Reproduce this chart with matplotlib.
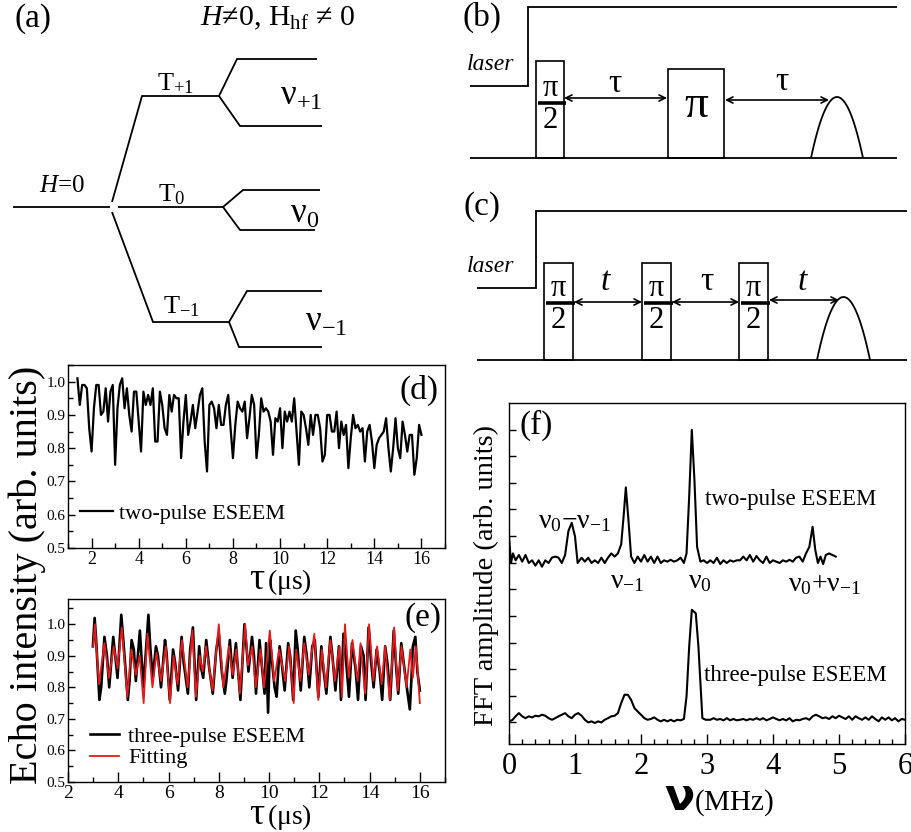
import matplotlib
matplotlib.use("Agg")
import matplotlib.pyplot as plt
import numpy as np
from matplotlib.patches import Rectangle, FancyArrowPatch
from matplotlib.ticker import MultipleLocator, NullFormatter, FormatStrFormatter

plt.rcParams["font.family"] = ["Liberation Serif", "DejaVu Serif"]
plt.rcParams["mathtext.fontset"] = "custom"
plt.rcParams["mathtext.rm"] = "Liberation Serif"
plt.rcParams["mathtext.it"] = "Liberation Serif:italic"

# (d) two-pulse echo decay, sampled every 0.1 us from 1.4 to 16.0 us
echo_two = [
    1.01, 0.93, 0.99, 0.99, 0.98, 0.86, 0.79, 0.92, 0.99, 0.99,
    0.90, 0.91, 0.98, 0.88, 0.97, 0.99, 0.75, 0.92, 0.99, 1.01,
    0.92, 0.98, 0.90, 0.85, 0.97, 0.97, 0.88, 0.79, 0.97, 0.93,
    0.96, 0.93, 0.98, 0.82, 0.82, 0.97, 0.93, 0.86, 0.84, 0.96,
    0.91, 0.96, 0.95, 0.95, 0.77, 0.88, 0.96, 0.84, 0.88, 0.93,
    0.86, 0.91, 0.96, 0.98, 0.82, 0.73, 0.93, 0.94, 0.92, 0.86,
    0.93, 0.87, 0.87, 0.93, 0.96, 0.86, 0.77, 0.87, 0.94, 0.92,
    0.91, 0.94, 0.83, 0.89, 0.96, 0.93, 0.77, 0.84, 0.95, 0.91,
    0.92, 0.91, 0.88, 0.78, 0.89, 0.88, 0.92, 0.80, 0.91, 0.88,
    0.91, 0.88, 0.95, 0.85, 0.75, 0.91, 0.90, 0.86, 0.81, 0.90,
    0.84, 0.90, 0.90, 0.86, 0.76, 0.78, 0.90, 0.90, 0.85, 0.85,
    0.91, 0.80, 0.88, 0.84, 0.87, 0.74, 0.83, 0.90, 0.86, 0.87,
    0.85, 0.86, 0.76, 0.85, 0.87, 0.82, 0.74, 0.81, 0.83, 0.84,
    0.85, 0.89, 0.80, 0.73, 0.80, 0.89, 0.80, 0.77, 0.88, 0.84,
    0.79, 0.84, 0.84, 0.72, 0.77, 0.87, 0.84,
]
tau_two = np.linspace(1.4, 16.0, len(echo_two))

# (e) three-pulse echo and its fit
tau_three = [
    2.99, 3.06, 3.12, 3.25, 3.32, 3.45, 3.55, 3.64, 3.80, 3.88, 3.97,
    4.12, 4.20, 4.38, 4.45, 4.53, 4.62, 4.70, 4.86, 4.92, 5.00,
    5.20, 5.28, 5.37, 5.50, 5.58, 5.70, 5.86, 5.92, 6.05,
    6.18, 6.26, 6.38, 6.52, 6.60, 6.77, 6.86, 6.97, 7.10,
    7.22, 7.30, 7.38, 7.50, 7.62, 7.76, 7.90, 8.00,
    8.12, 8.24, 8.30, 8.44, 8.55, 8.68, 8.76, 8.86, 9.02,
    9.10, 9.18, 9.32, 9.40, 9.48, 9.62, 9.70, 9.82, 9.88, 9.96,
    10.04, 10.12, 10.22, 10.30, 10.42, 10.50, 10.62, 10.76, 10.84, 10.96,
    11.06, 11.14, 11.26, 11.40, 11.50, 11.60, 11.72, 11.82, 11.96,
    12.08, 12.16, 12.28, 12.44, 12.52, 12.64, 12.78, 12.86, 12.96,
    13.08, 13.18, 13.30, 13.44, 13.54, 13.66, 13.76, 13.84, 13.96,
    14.06, 14.16, 14.28, 14.40, 14.50, 14.62, 14.72, 14.82, 14.96,
    15.06, 15.14, 15.26, 15.40, 15.48, 15.60, 15.66, 15.72, 15.82, 15.90, 16.00,
]
echo_three = [
    0.93, 1.02, 0.95, 0.76, 0.80, 0.96, 0.90, 0.80, 0.96, 0.90, 0.83,
    1.03, 0.95, 0.76, 0.82, 0.95, 0.92, 0.82, 0.98, 0.90, 0.80,
    1.03, 0.92, 0.83, 0.93, 0.90, 0.80, 0.95, 0.91, 0.76,
    0.92, 0.88, 0.79, 0.96, 0.88, 0.78, 0.92, 0.99, 0.76,
    0.93, 0.86, 0.83, 0.95, 0.86, 0.78, 0.92, 0.97,
    0.85, 0.78, 0.82, 0.95, 0.83, 0.94, 0.86, 0.76, 1.00,
    0.93, 0.85, 0.96, 0.90, 0.78, 0.95, 0.88, 0.78, 0.94, 0.72,
    0.95, 0.88, 0.80, 0.77, 0.93, 0.88, 0.79, 0.94, 0.90, 0.76,
    0.98, 0.92, 0.79, 0.96, 0.90, 0.80, 0.93, 0.95, 0.77,
    0.93, 0.86, 0.78, 0.96, 0.90, 0.79, 0.93, 0.76, 0.97,
    0.87, 0.77, 0.94, 0.86, 0.76, 0.93, 0.90, 0.76, 0.99,
    0.88, 0.80, 0.92, 0.85, 0.76, 0.93, 0.87, 0.76, 0.98,
    0.86, 0.78, 0.94, 0.85, 0.80, 0.73, 0.82, 0.93, 0.96, 0.85, 0.79,
]
tau_fit = [
    3.00, 3.07, 3.23, 3.45, 3.63, 3.82, 3.97,
    4.14, 4.36, 4.52, 4.70, 4.85, 5.01,
    5.16, 5.36, 5.52, 5.70, 5.89, 6.06,
    6.20, 6.36, 6.53, 6.76, 6.95, 7.09,
    7.24, 7.36, 7.49, 7.75, 8.00,
    8.18, 8.40, 8.55, 8.70, 8.84,
    9.05, 9.16, 9.33, 9.47, 9.66, 9.80,
    10.03, 10.20, 10.40, 10.64, 10.80, 10.98,
    11.08, 11.25, 11.40, 11.58, 11.80, 11.96,
    12.10, 12.26, 12.44, 12.62, 12.80, 12.90, 13.02,
    13.17, 13.32, 13.52, 13.64, 13.82, 13.98,
    14.15, 14.30, 14.48, 14.62, 14.80, 14.98,
    15.12, 15.27, 15.47, 15.62, 15.72, 15.84, 16.00,
]
echo_fit = [
    0.93, 1.00, 0.81, 0.94, 0.83, 0.93, 0.86,
    0.99, 0.77, 0.92, 0.84, 0.90, 0.75,
    0.97, 0.80, 0.91, 0.82, 0.93, 0.75,
    0.90, 0.81, 0.95, 0.80, 0.98, 0.77,
    0.90, 0.85, 0.93, 0.79, 1.00,
    0.80, 0.93, 0.84, 0.92, 0.78,
    1.00, 0.87, 0.93, 0.80, 0.92, 0.80,
    0.98, 0.82, 0.92, 0.82, 0.93, 0.75,
    0.92, 0.82, 0.94, 0.84, 0.97, 0.76,
    0.92, 0.80, 0.95, 0.82, 0.93, 0.77, 1.00,
    0.83, 0.95, 0.82, 0.94, 0.78, 1.00,
    0.82, 0.93, 0.81, 0.93, 0.76, 0.99,
    0.79, 0.93, 0.80, 0.92, 0.83, 0.93, 0.75,
]

# (f) FFT spectra, offset vertically (arbitrary units)
freq_two = [
    0.00, 0.03, 0.06, 0.10, 0.15, 0.20, 0.25, 0.30, 0.35, 0.40,
    0.45, 0.50, 0.55, 0.60, 0.65, 0.70, 0.75, 0.80, 0.85, 0.90,
    0.95, 1.00, 1.04, 1.10, 1.15, 1.20, 1.25, 1.30, 1.35, 1.40,
    1.45, 1.50, 1.55, 1.60, 1.65, 1.70, 1.74, 1.77, 1.81, 1.85,
    1.90, 1.95, 2.00, 2.05, 2.10, 2.15, 2.20, 2.25, 2.30, 2.35,
    2.40, 2.45, 2.50, 2.55, 2.60, 2.65, 2.69, 2.73, 2.77, 2.81,
    2.85, 2.90, 2.95, 3.00, 3.05, 3.10, 3.15, 3.20, 3.25, 3.30,
    3.35, 3.40, 3.45, 3.50, 3.55, 3.60, 3.65, 3.70, 3.75, 3.80,
    3.85, 3.90, 3.95, 4.00, 4.05, 4.10, 4.15, 4.20, 4.25, 4.30,
    4.35, 4.40, 4.45, 4.50, 4.55, 4.60, 4.64, 4.68, 4.72, 4.76,
    4.80, 4.85, 4.90, 4.95,
]
fft_two = [
    7.80, 6.80, 7.16, 6.90, 7.10, 6.85, 7.10, 6.80, 6.90, 6.70,
    6.90, 6.66, 6.90, 6.80, 7.00, 7.04, 7.00, 6.80, 7.10, 8.00,
    8.31, 7.80, 6.80, 7.00, 6.85, 7.00, 6.80, 6.90, 6.80, 7.00,
    6.80, 7.00, 7.16, 7.04, 7.16, 7.50, 8.66, 9.64, 8.40, 7.04,
    6.80, 7.04, 6.85, 7.10, 6.85, 7.04, 6.80, 7.04, 6.80, 6.90,
    6.85, 6.92, 6.85, 6.90, 7.00, 6.80, 7.16, 9.30, 11.80, 9.90,
    7.40, 6.85, 6.90, 6.80, 6.90, 6.80, 7.00, 6.76, 6.90, 6.80,
    6.90, 6.85, 6.90, 6.90, 7.04, 6.90, 7.10, 6.85, 7.06, 6.90,
    6.80, 7.04, 6.80, 6.90, 6.85, 6.80, 6.90, 6.85, 6.92, 6.85,
    7.00, 7.04, 6.85, 7.16, 7.40, 8.16, 7.30, 6.80, 7.04, 6.76,
    7.10, 7.16, 7.10, 7.04,
]
freq_three = [
    0.00, 0.05, 0.10, 0.15, 0.20, 0.25, 0.30, 0.35, 0.40, 0.45,
    0.50, 0.55, 0.60, 0.65, 0.70, 0.75, 0.80, 0.85, 0.90, 0.95,
    1.00, 1.05, 1.10, 1.15, 1.20, 1.25, 1.30, 1.35, 1.40, 1.45,
    1.50, 1.55, 1.60, 1.65, 1.70, 1.75, 1.80, 1.85, 1.90, 1.95,
    2.00, 2.05, 2.10, 2.15, 2.20, 2.25, 2.30, 2.35, 2.40, 2.45,
    2.50, 2.55, 2.60, 2.65, 2.69, 2.73, 2.77, 2.83, 2.87, 2.93,
    2.98, 3.05, 3.10, 3.15, 3.20, 3.25, 3.30, 3.35, 3.40, 3.45,
    3.50, 3.55, 3.60, 3.65, 3.70, 3.75, 3.80, 3.85, 3.90, 3.95,
    4.00, 4.05, 4.10, 4.15, 4.20, 4.25, 4.30, 4.35, 4.40, 4.45,
    4.50, 4.55, 4.60, 4.65, 4.70, 4.75, 4.80, 4.85, 4.90, 4.95,
    5.00, 5.05, 5.10, 5.15, 5.20, 5.25, 5.30, 5.35, 5.40, 5.45,
    5.50, 5.55, 5.60, 5.65, 5.70, 5.75, 5.80, 5.85, 5.90, 5.95, 6.00,
]
fft_three = [
    0.85, 0.90, 1.04, 1.16, 1.04, 0.97, 1.04, 1.00, 1.06, 1.04,
    1.10, 1.06, 0.97, 0.91, 0.97, 1.04, 1.10, 1.16, 1.04, 0.97,
    1.10, 1.16, 1.06, 0.91, 0.81, 0.85, 0.79, 0.85, 0.81, 0.91,
    0.97, 1.04, 1.06, 1.16, 1.54, 1.85, 1.85, 1.66, 1.35, 1.22,
    1.10, 0.97, 0.91, 0.94, 1.00, 0.91, 0.85, 0.91, 0.85, 0.91,
    0.85, 0.91, 0.89, 0.94, 1.79, 3.66, 5.04, 4.91, 3.66, 0.97,
    0.91, 0.91, 0.97, 0.91, 0.94, 0.89, 0.97, 0.89, 0.94, 0.89,
    0.91, 0.94, 0.89, 0.94, 0.91, 0.97, 0.91, 0.97, 0.89, 0.94,
    1.00, 0.94, 0.89, 0.94, 0.89, 0.97, 0.85, 0.91, 0.89, 0.94,
    0.97, 0.91, 1.04, 1.10, 1.04, 0.97, 1.00, 0.94, 1.04, 0.97,
    1.06, 1.00, 0.94, 1.04, 0.91, 1.04, 0.97, 0.91, 1.00, 0.91,
    1.04, 0.94, 0.85, 1.00, 0.91, 1.00, 0.89, 0.97, 0.85, 0.94, 0.91,
]

W, H = 912, 832
RED = "#e31a1c"


def frame(x0, y0, x1, y1):
    return [x0 / W, 1 - y1 / H, (x1 - x0) / W, (y1 - y0) / H]


def style(ax, xsize, ysize, xpad=2):
    for spine in ax.spines.values():
        spine.set_linewidth(1.0)
    ax.tick_params(which="both", direction="in", top=False, right=False, width=1.0)
    ax.tick_params(axis="x", which="major", length=7, labelsize=xsize, pad=xpad)
    ax.tick_params(axis="y", which="major", length=5, labelsize=ysize, pad=2)
    ax.tick_params(which="minor", length=3.5)


fig = plt.figure(figsize=(W / 100, H / 100), dpi=100)

# (d) two-pulse ESEEM
ax_d = fig.add_axes(frame(68, 365, 445, 548))
ax_d.plot(tau_two, echo_two, color="k", lw=1.6, label="two-pulse ESEEM")
ax_d.set_xlim(1, 17)
ax_d.set_ylim(0.5, 1.05)
ax_d.xaxis.set_major_locator(MultipleLocator(2))
ax_d.xaxis.set_minor_locator(MultipleLocator(1))
ax_d.yaxis.set_major_locator(MultipleLocator(0.1))
ax_d.yaxis.set_minor_locator(MultipleLocator(0.05))
ax_d.yaxis.set_major_formatter(FormatStrFormatter("%.1f"))
style(ax_d, 13, 11)
ax_d.legend(loc="center left", bbox_to_anchor=(0.032, 0.19), frameon=False,
            fontsize=16, handlelength=1.5, handletextpad=0.25,
            borderpad=0, borderaxespad=0)

# (e) three-pulse ESEEM with fit
ax_e = fig.add_axes(frame(68, 599, 445, 782))
ax_e.plot(tau_three, echo_three, color="k", lw=1.9, label="three-pulse ESEEM")
ax_e.plot(tau_fit, echo_fit, color=RED, lw=1.3, label="Fitting")
ax_e.set_xlim(2, 17)
ax_e.set_ylim(0.5, 1.08)
ax_e.xaxis.set_major_locator(MultipleLocator(2))
ax_e.xaxis.set_minor_locator(MultipleLocator(1))
ax_e.yaxis.set_major_locator(MultipleLocator(0.1))
ax_e.yaxis.set_minor_locator(MultipleLocator(0.05))
ax_e.yaxis.set_major_formatter(FormatStrFormatter("%.1f"))
style(ax_e, 14, 11)
ax_e.legend(loc="center left", bbox_to_anchor=(0.058, 0.19), frameon=False,
            fontsize=16, handlelength=1.3, handletextpad=0.42, labelspacing=0.05,
            borderpad=0, borderaxespad=0)

# (f) FFT spectra
ax_f = fig.add_axes(frame(509, 403, 905, 744))
ax_f.plot(freq_two, fft_two, color="k", lw=1.5)
ax_f.plot(freq_three, fft_three, color="k", lw=1.5)
ax_f.set_xlim(0, 6)
ax_f.set_ylim(0, 12.81)
ax_f.xaxis.set_major_locator(MultipleLocator(1))
ax_f.xaxis.set_minor_locator(MultipleLocator(0.2))
ax_f.yaxis.set_major_locator(MultipleLocator(1, offset=0.8125))
ax_f.yaxis.set_major_formatter(NullFormatter())
style(ax_f, 22, 10, xpad=6)

# overlay in pixel coordinates for the schematics and free text
ov = fig.add_axes([0, 0, 1, 1], zorder=10)
ov.set_xlim(0, W)
ov.set_ylim(H, 0)
ov.axis("off")
ov.patch.set_alpha(0)


def line(xs, ys, lw=1.3):
    ov.plot(xs, ys, color="k", lw=lw, solid_capstyle="butt", solid_joinstyle="miter")


def txt(x, y, s, size, **kw):
    kw.setdefault("ha", "center")
    kw.setdefault("va", "center")
    ov.text(x, y, s, fontsize=size, **kw)


def arrow(x0, x1, y):
    ov.add_patch(FancyArrowPatch((x0, y), (x1, y), arrowstyle="<->",
                                 mutation_scale=11, lw=1.2, color="k",
                                 shrinkA=0, shrinkB=0))


def echo(x0, x1, top, base):
    xs = np.linspace(x0, x1, 60)
    mid = 0.5 * (x0 + x1)
    half = 0.5 * (x1 - x0)
    line(xs, base - (base - top) * (1 - ((xs - mid) / half) ** 2))


def half_pulse(x0, x1, top, base, bar, size):
    ov.add_patch(Rectangle((x0, top), x1 - x0, base - top, fill=False, lw=1.2, ec="k"))
    line([x0 + 2, x1 + 2], [bar, bar], lw=2.6)
    txt(0.5 * (x0 + x1), bar - 15, "π", size)
    txt(0.5 * (x0 + x1), bar + 17, "2", size)


TAG = 24

# (a) level scheme
txt(33, 19, "(a)", TAG)
txt(200, 18, r"$H$≠0, H$_{\mathrm{hf}}$ ≠ 0", 21.5, ha="left")
line([13, 110], [207, 207])
line([118, 223], [207, 207])
line([112, 142, 219], [202, 96, 96])
line([112, 153, 229], [212, 322, 322])
line([317, 237, 219, 240, 322], [59, 59, 96, 126, 126])
line([320, 243, 223, 240, 315], [190, 190, 207, 230, 230])
line([322, 247, 229, 239, 322], [291, 291, 322, 347, 347])
txt(62, 186, r"$H$=0", 18)
txt(157, 84, r"T$_{+1}$", 19, ha="left")
txt(158, 195, r"T$_0$", 19, ha="left")
txt(163, 307, r"T$_{-1}$", 19, ha="left")
txt(280, 96, r"ν$_{+1}$", 25, ha="left")
txt(290, 214, r"ν$_0$", 25, ha="left")
txt(305, 322, r"ν$_{-1}$", 25, ha="left")

# (b) two-pulse sequence
txt(482, 17, "(b)", TAG)
line([470, 528, 528, 897], [86, 86, 7, 7])
line([470, 897], [158, 158])
txt(514, 64, "laser", 17, ha="right", style="italic")
half_pulse(536, 564, 61, 158, 103, 22)
ov.add_patch(Rectangle((668, 69), 56, 89, fill=False, lw=1.2, ec="k"))
txt(696, 106, "π", 34)
arrow(564, 667, 98)
txt(615, 84, "τ", 24)
arrow(725, 829, 100)
txt(782, 82, "τ", 24)
echo(811, 863, 97, 158)

# (c) three-pulse sequence
txt(482, 207, "(c)", TAG)
line([477, 536, 536, 907], [288, 288, 211, 211])
line([477, 907], [360, 360])
txt(514, 267, "laser", 17, ha="right", style="italic")
for x0 in (544, 642, 739):
    half_pulse(x0, x0 + 29, 263, 360, 303, 22)
arrow(574, 642, 302)
txt(605, 282, "t", 24, style="italic")
arrow(672, 739, 302)
txt(707, 282, "τ", 24)
arrow(769, 839, 300)
txt(802, 282, "t", 24, style="italic")
echo(817, 870, 297, 360)

# axis titles and panel tags for (d)-(f)
txt(27, 575, "Echo intensity (arb. units)", 29, rotation=90)
txt(419, 390, "(d)", TAG)
txt(423, 618, "(e)", TAG)
txt(265, 589, r"$\mathrm{τ}$", 27, ha="right", va="baseline")
txt(267, 589, r"$\mathrm{(μs)}$", 20, ha="left", va="baseline")
txt(265, 824, r"$\mathrm{τ}$", 27, ha="right", va="baseline")
txt(267, 824, r"$\mathrm{(μs)}$", 20, ha="left", va="baseline")

txt(486, 575, "FFT amplitude (arb. units)", 20.5, rotation=90)
txt(536, 425, "(f)", TAG)
txt(705, 500, "two-pulse ESEEM", 16.5, ha="left")
txt(704, 676, "three-pulse ESEEM", 16.5, ha="left")
txt(538, 522, r"ν$_0$−ν$_{-1}$", 20, ha="left")
txt(610, 582, r"ν$_{-1}$", 20, ha="left")
txt(688, 582, r"ν$_0$", 20, ha="left")
txt(788, 585, r"ν$_0$+ν$_{-1}$", 20, ha="left")
txt(694, 810, r"$\mathbf{ν}$", 32, ha="right", va="baseline")
txt(694, 810, r"$\mathrm{(MHz)}$", 21, ha="left", va="baseline")

fig.savefig("out.png", dpi=100)
